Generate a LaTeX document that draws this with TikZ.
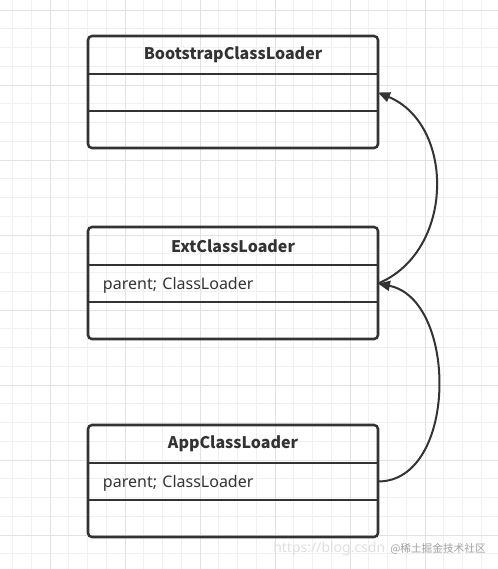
\documentclass[tikz,border=0pt]{standalone}
\usepackage{fontspec}
\setmainfont{Noto Sans}
\newfontfamily\cjk{Noto Sans CJK SC}
\usetikzlibrary{arrows.meta,positioning}
\definecolor{ink}{HTML}{333333}
\definecolor{gmin}{HTML}{F0F0F0}
\definecolor{gmaj}{HTML}{E2E2E2}
\definecolor{wm}{HTML}{A0A0A0}
\definecolor{wmlt}{HTML}{E0E0E0}

\begin{document}
\begin{tikzpicture}[x=0.75pt,y=-0.75pt,
   hd/.style={minimum width=217.5pt,minimum height=28.5pt,inner sep=0pt,outer sep=0pt,
              font=\cjk\bfseries\fontsize{12}{14}\selectfont,text=ink},
   row/.style={minimum width=217.5pt,minimum height=27.75pt,inner ysep=0pt,inner xsep=11.25pt,
               outer sep=0pt,text width=195pt,text height=12pt,text depth=2.5pt,align=left,
               font=\fontsize{12}{14}\selectfont,text=ink},
   box/.style={draw=ink,line width=1.9pt,rounded corners=3pt},
   sep/.style={draw=ink,line width=1.6pt},
   dep/.style={draw=ink,line width=1.5pt,-{Triangle[length=9pt,width=7.5pt]}}]
  \useasboundingbox (0,0) rectangle (498,569);
  \fill[white] (0,0) rectangle (498,569);
  % grid
  \foreach \x in {12.5,31.25,...,498} \draw[gmin,line width=0.75pt] (\x,0)--(\x,569);
  \foreach \y in {10,28.75,...,569} \draw[gmin,line width=0.75pt] (0,\y)--(498,\y);
  \foreach \x in {50,125,...,498} \draw[gmaj,line width=0.75pt] (\x,0)--(\x,569);
  \foreach \y in {10,85,...,569} \draw[gmaj,line width=0.75pt] (0,\y)--(498,\y);

  % classes
  \node[hd] (bt) at (233,55) {BootstrapClassLoader};
  \node[row,below=0pt of bt] (bt-a) {};
  \node[row,below=0pt of bt-a] (bt-o) {};
  \node[hd] (ext) at (233,246) {ExtClassLoader};
  \node[row,below=0pt of ext] (ext-a) {parent; ClassLoader};
  \node[row,below=0pt of ext-a] (ext-o) {};
  \node[hd] (app) at (233,444) {AppClassLoader};
  \node[row,below=0pt of app] (app-a) {parent; ClassLoader};
  \node[row,below=0pt of app-a] (app-o) {};
  \foreach \c in {bt,ext,app}{
    \draw[box] (\c.north west) rectangle (\c-o.south east);
    \draw[sep] (\c.south west)--(\c.south east);
    \draw[sep] (\c-a.south west)--(\c-a.south east);
  }

  % parent links
  \draw[dep] (ext-a.east) .. controls +(77,-32) and +(77,32) .. (bt-a.east);
  \draw[dep] (app-a.east) .. controls +(80,0) and +(80,16) .. (ext-a.east);

  % watermark
  \node[anchor=west,inner sep=0pt,text=wmlt,font=\fontsize{10.5}{12}\selectfont] (url) at (273,549) {https://blog.csdn};
  \node[anchor=west,inner sep=0pt,text=wm,font=\cjk\fontsize{8}{10}\selectfont] (mark) at (390,549) {@稀土掘金技术社区};
\end{tikzpicture}
\end{document}
